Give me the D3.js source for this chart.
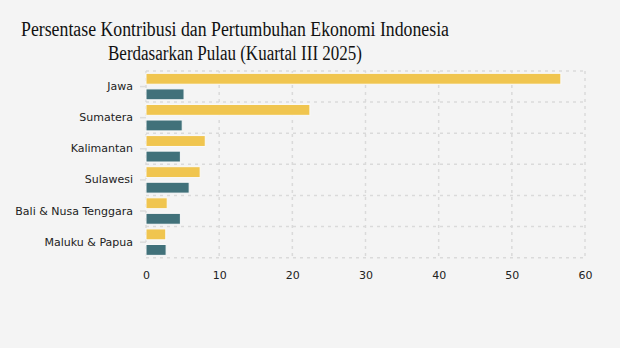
<!DOCTYPE html>
<html>
<head>
<meta charset="utf-8">
<script src="https://cdn.jsdelivr.net/npm/d3@7"></script>
<style>
  html, body { margin: 0; padding: 0; background: #f4f4f4; }
  svg { display: block; }
</style>
</head>
<body>
<svg id="chart" width="620" height="348"></svg>
<script>
const categories = ["Jawa", "Sumatera", "Kalimantan", "Sulawesi", "Bali & Nusa Tenggara", "Maluku & Papua"];
const kontribusi = [56.7, 22.4, 8.1, 7.4, 2.9, 2.7];
const pertumbuhan = [5.2, 4.95, 4.7, 5.9, 4.7, 2.75];
const seriesKeys = ["kontribusi", "pertumbuhan"];
const xTicks = [0, 10, 20, 30, 40, 50, 60];
const titleLines = ["Persentase Kontribusi dan Pertumbuhan Ekonomi Indonesia", "Berdasarkan Pulau (Kuartal III 2025)"];
const titleWidths = [428, 254];
const colors = { kontribusi: "#f0c54f", pertumbuhan: "#41717a" };

const data = categories.map((c, i) => ({ cat: c, kontribusi: kontribusi[i], pertumbuhan: pertumbuhan[i] }));

const svg = d3.select("#chart");
svg.append("rect").attr("width", 620).attr("height", 348).attr("fill", "#f4f4f4");

const x = d3.scaleLinear().domain([0, 60]).range([146, 585]);
const y = d3.scaleBand().domain(categories).range([71, 257.7]).paddingInner(0).paddingOuter(0);
const ySub = d3.scaleBand().domain(seriesKeys).range([0, y.bandwidth()]).paddingInner(0.3).paddingOuter(0.15);

const gridColor = "#dadada";
// vertical grid
svg.append("g").selectAll("line").data(xTicks).join("line")
  .attr("x1", d => x(d)).attr("x2", d => x(d))
  .attr("y1", 71).attr("y2", 257.7)
  .attr("stroke", gridColor).attr("stroke-width", 1.5).attr("stroke-dasharray", "3,4");
// horizontal grid at band boundaries
const bounds = categories.map(c => y(c)).concat([y.range()[1]]);
svg.append("g").selectAll("line").data(bounds).join("line")
  .attr("x1", 146).attr("x2", 585)
  .attr("y1", d => d).attr("y2", d => d)
  .attr("stroke", gridColor).attr("stroke-width", 1.5).attr("stroke-dasharray", "3,4");

// bars
const groups = svg.append("g").selectAll("g").data(data).join("g")
  .attr("transform", d => `translate(0,${y(d.cat)})`);
groups.selectAll("rect").data(d => seriesKeys.map(k => ({ key: k, value: d[k] }))).join("rect")
  .attr("x", x(0))
  .attr("y", d => ySub(d.key))
  .attr("width", d => x(d.value) - x(0))
  .attr("height", ySub.bandwidth())
  .attr("fill", d => colors[d.key])
  .attr("stroke", "#fafafa").attr("stroke-width", 1);

// y axis
const yAxis = d3.axisLeft(y).tickSize(6).tickPadding(7);
const gy = svg.append("g").attr("transform", `translate(${x(0)},0)`).call(yAxis);
gy.select(".domain").remove();
gy.selectAll(".tick line").attr("stroke", "#dcdcdc").attr("stroke-width", 1.5);
gy.selectAll(".tick text").attr("fill", "#222").style("font-family", "'DejaVu Sans', Verdana, sans-serif").style("font-size", "11px");

// x axis
const xAxis = d3.axisBottom(x).tickValues(xTicks).tickSize(0).tickPadding(0).tickFormat(d3.format("d"));
const gx = svg.append("g").attr("transform", `translate(0,271)`).call(xAxis);
gx.select(".domain").remove();
gx.selectAll(".tick text").attr("fill", "#222").style("font-family", "'DejaVu Sans', Verdana, sans-serif").style("font-size", "11px");

// title
titleLines.forEach((t, i) => {
  svg.append("text").attr("text-anchor", "middle")
    .style("font-family", "'Liberation Serif', 'DejaVu Serif', serif").style("font-size", "20px").attr("fill", "#111")
    .attr("x", 235).attr("y", 36 + i * 24)
    .attr("textLength", titleWidths[i]).attr("lengthAdjust", "spacingAndGlyphs")
    .text(t);
});
</script>
</body>
</html>
